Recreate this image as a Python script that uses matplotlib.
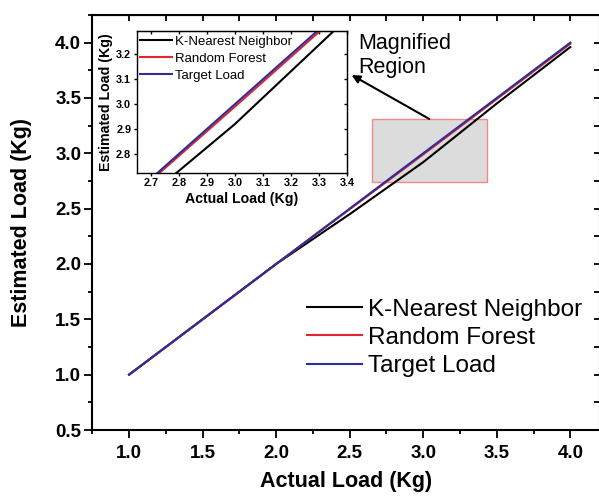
import matplotlib.pyplot as plt
from matplotlib.patches import Rectangle
from matplotlib.ticker import MultipleLocator

plt.rcParams['font.family'] = ['Liberation Sans', 'DejaVu Sans']

# load values (Kg)
actual_load = [1.0, 1.5, 2.0, 2.5, 3.0, 3.5, 4.0]
knn_load = [1.0, 1.5, 2.0, 2.45, 2.92, 3.45, 3.96]
rf_load = [1.0, 1.5, 2.0, 2.495, 2.99, 3.49, 3.99]
target_load = [1.0, 1.5, 2.0, 2.5, 3.0, 3.5, 4.0]

series_names = ['K-Nearest Neighbor', 'Random Forest', 'Target Load']
series_colors = ['black', '#e3262e', '#2e2e9a']

x_ticks = [1.0, 1.5, 2.0, 2.5, 3.0, 3.5, 4.0]
y_ticks = [0.5, 1.0, 1.5, 2.0, 2.5, 3.0, 3.5, 4.0]
inset_x_ticks = [2.7, 2.8, 2.9, 3.0, 3.1, 3.2, 3.3, 3.4]
inset_y_ticks = [2.8, 2.9, 3.0, 3.1, 3.2]

# zoomed region shown in the inset
zoom_x = (2.65, 3.43)
zoom_y = (2.74, 3.31)

fig = plt.figure(figsize=(5.99, 4.97), dpi=100)

# ---- main plot ----
ax = fig.add_axes([0.1541, 0.1348, 0.8472, 0.8352])
for vals, name, col in zip([knn_load, rf_load, target_load], series_names, series_colors):
    ax.plot(actual_load, vals, color=col, lw=1.5, label=name, zorder=3)

ax.set_xlim(0.75, 4.2)
ax.set_ylim(0.5, 4.25)
ax.set_xticks(x_ticks, [f'{v:.1f}' for v in x_ticks], fontweight='bold', fontsize=13.5)
ax.set_yticks(y_ticks, [f'{v:.1f}' for v in y_ticks], fontweight='bold', fontsize=13.5)
ax.xaxis.set_minor_locator(MultipleLocator(0.25))
ax.yaxis.set_minor_locator(MultipleLocator(0.25))
ax.tick_params(which='major', direction='out', length=6, width=1.3)
ax.tick_params(which='minor', direction='out', length=3, width=1.3)
ax.tick_params(axis='x', which='major', pad=5)
ax.tick_params(axis='y', which='major', pad=2)
for s in ax.spines.values():
    s.set_linewidth(1.5)

# mirrored ticks on top and right, pointing inwards
top = ax.secondary_xaxis('top')
top.set_xticks(x_ticks)
top.xaxis.set_minor_locator(MultipleLocator(0.25))
top.tick_params(which='both', direction='in', length=4, width=1.3, labeltop=False)
right = ax.secondary_yaxis('right')
right.set_yticks(y_ticks)
right.yaxis.set_minor_locator(MultipleLocator(0.25))
right.tick_params(which='both', direction='in', length=4, width=1.3, labelright=False)

ax.set_xlabel('Actual Load (Kg)', fontsize=15.5, fontweight='bold', labelpad=6)
ax.set_ylabel('Estimated Load (Kg)', fontsize=15.5, fontweight='bold', labelpad=17)

ax.add_patch(Rectangle((zoom_x[0], zoom_y[0]), zoom_x[1] - zoom_x[0], zoom_y[1] - zoom_y[0],
                       facecolor='#dcdcdc', edgecolor='#f08a8a', lw=1, zorder=1))
ax.annotate('', xy=(2.513, 3.707), xytext=(3.041, zoom_y[1]),
            arrowprops=dict(arrowstyle='-|>', color='black', lw=1.5,
                            mutation_scale=12, shrinkA=0, shrinkB=0))
ax.text(2.56, 4.09, 'Magnified\nRegion', fontsize=15.5, ha='left', va='top')

ax.legend(loc='center left', bbox_to_anchor=(0.5125, 0.32), bbox_transform=fig.transFigure,
          frameon=False, fontsize=17.5, handlelength=2.26, handletextpad=0.25,
          labelspacing=0.26, borderpad=0, borderaxespad=0)

# ---- inset ----
axin = fig.add_axes([0.2282, 0.6525, 0.3511, 0.2857])
for vals, name, col in zip([knn_load, rf_load, target_load], series_names, series_colors):
    axin.plot(actual_load, vals, color=col, lw=1.5, label=name)
axin.set_xlim(2.65, 3.4)
axin.set_ylim(2.725, 3.295)
axin.set_xticks(inset_x_ticks, [f'{v:.1f}' for v in inset_x_ticks], fontweight='bold', fontsize=7.8)
axin.set_yticks(inset_y_ticks, [f'{v:.1f}' for v in inset_y_ticks], fontweight='bold', fontsize=7.8)
axin.tick_params(direction='out', length=2.5, width=1, pad=1.5)
for s in axin.spines.values():
    s.set_linewidth(1)
itop = axin.secondary_xaxis('top')
itop.set_xticks(inset_x_ticks)
itop.tick_params(direction='in', length=2.5, width=1, labeltop=False)
iright = axin.secondary_yaxis('right')
iright.set_yticks(inset_y_ticks)
iright.tick_params(direction='in', length=2.5, width=1, labelright=False)
axin.set_xlabel('Actual Load (Kg)', fontsize=10.2, fontweight='bold', labelpad=3)
axin.set_ylabel('Estimated Load (Kg)', fontsize=10.2, fontweight='bold', labelpad=2)
axin.legend(loc='upper left', bbox_to_anchor=(0.2337, 0.928), bbox_transform=fig.transFigure,
            frameon=False, fontsize=9.5, handlelength=2.4, handletextpad=0.25,
            labelspacing=0.36, borderpad=0, borderaxespad=0)

fig.savefig('out.png', dpi=100)
